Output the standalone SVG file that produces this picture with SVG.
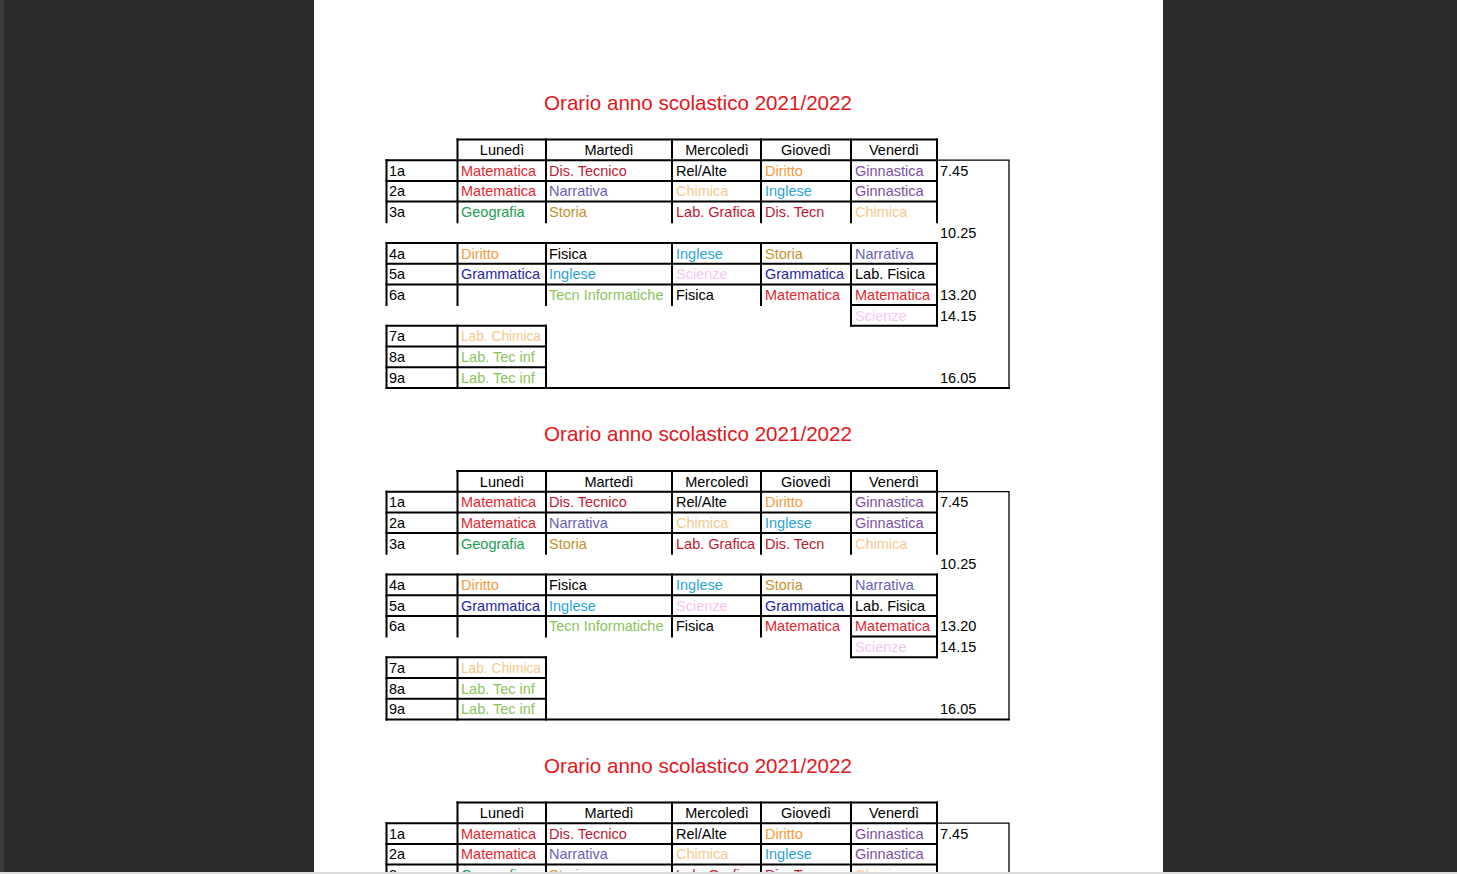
<svg xmlns="http://www.w3.org/2000/svg" width="1457" height="874" viewBox="0 0 1457 874">
<style>
text{font-family:"Liberation Sans",Arial,sans-serif;font-size:14.5px;fill:#000}
.t{font-size:20.6px;fill:#e3151b;text-anchor:middle}
.h{text-anchor:middle}
.ln{stroke:#000;stroke-width:2;fill:none;stroke-linecap:square}
.fr{stroke:#000;stroke-width:1.3;fill:none}
.red{fill:#e3262e}.dred{fill:#c01830}.nar{fill:#6a5fb8}.gin{fill:#7c4fa3}
.chi{fill:#f5c98e}.geo{fill:#1e9e50}.sto{fill:#c3922e}.dir{fill:#f39a3c}
.ing{fill:#2aa5d6}.gra{fill:#2626a0}.sci{fill:#f3c6f0}.tec{fill:#8cc45c}
</style>
<rect x="0" y="0" width="1457" height="874" fill="#2b2b2b"/>
<rect x="0" y="0" width="4" height="874" fill="#3c3c3c"/>
<rect x="314" y="0" width="849" height="874" fill="#ffffff"/>

<g id="table1">
<text class="t" x="698" y="109.5">Orario anno scolastico 2021/2022</text>
<g id="grid1">
<path class="ln" d="M457.5,139.5H937M386.5,160.2H937M386.5,180.9H937M386.5,201.6H937M386.5,243H937M386.5,263.7H937M386.5,284.4H937M851,305.1H937M386.5,325.8H546M851,325.8H937M386.5,346.5H546M386.5,367.2H546M386.5,387.9H1009"/>
<path class="ln" d="M386.5,160.2V222.3M386.5,243V305.1M386.5,325.8V387.9M457.5,139.5V222.3M457.5,243V305.1M457.5,325.8V387.9M546,139.5V222.3M546,243V305.1M546,325.8V387.9M672,139.5V222.3M672,243V305.1M761,139.5V222.3M761,243V305.1M851,139.5V222.3M851,243V325.8M937,139.5V222.3M937,243V325.8"/>
<path class="fr" d="M937,160.2H1009V387.9"/>
</g>
<text class="h" x="502" y="155">Lunedì</text><text class="h" x="609" y="155">Martedì</text><text class="h" x="717" y="155">Mercoledì</text><text class="h" x="806" y="155">Giovedì</text><text class="h" x="894" y="155">Venerdì</text>
<text x="389" y="175.7">1a</text><text class="red" x="461" y="175.7">Matematica</text><text class="dred" x="549" y="175.7">Dis. Tecnico</text><text x="676" y="175.7">Rel/Alte</text><text class="dir" x="765" y="175.7">Diritto</text><text class="gin" x="855" y="175.7">Ginnastica</text><text x="940" y="175.7">7.45</text>
<text x="389" y="196.4">2a</text><text class="red" x="461" y="196.4">Matematica</text><text class="nar" x="549" y="196.4">Narrativa</text><text class="chi" x="676" y="196.4">Chimica</text><text class="ing" x="765" y="196.4">Inglese</text><text class="gin" x="855" y="196.4">Ginnastica</text>
<text x="389" y="217.1">3a</text><text class="geo" x="461" y="217.1">Geografia</text><text class="sto" x="549" y="217.1">Storia</text><text class="dred" x="676" y="217.1">Lab. Grafica</text><text class="dred" x="765" y="217.1">Dis. Tecn</text><text class="chi" x="855" y="217.1">Chimica</text>
<text x="940" y="237.8">10.25</text>
<text x="389" y="258.5">4a</text><text class="dir" x="461" y="258.5">Diritto</text><text x="549" y="258.5">Fisica</text><text class="ing" x="676" y="258.5">Inglese</text><text class="sto" x="765" y="258.5">Storia</text><text class="nar" x="855" y="258.5">Narrativa</text>
<text x="389" y="279.2">5a</text><text class="gra" x="461" y="279.2">Grammatica</text><text class="ing" x="549" y="279.2">Inglese</text><text class="sci" x="676" y="279.2">Scienze</text><text class="gra" x="765" y="279.2">Grammatica</text><text x="855" y="279.2">Lab. Fisica</text>
<text x="389" y="299.9">6a</text><text class="tec" x="549" y="299.9">Tecn Informatiche</text><text x="676" y="299.9">Fisica</text><text class="red" x="765" y="299.9">Matematica</text><text class="red" x="855" y="299.9">Matematica</text><text x="940" y="299.9">13.20</text>
<text class="sci" x="855" y="320.6">Scienze</text><text x="940" y="320.6">14.15</text>
<text x="389" y="341.3">7a</text><text class="chi" x="461" y="341.3" textLength="80" lengthAdjust="spacingAndGlyphs">Lab. Chimica</text>
<text x="389" y="362">8a</text><text class="tec" x="461" y="362">Lab. Tec inf</text>
<text x="389" y="382.7">9a</text><text class="tec" x="461" y="382.7">Lab. Tec inf</text><text x="940" y="382.7">16.05</text>
</g>

<g id="table2" transform="translate(0,331.5)">
<text class="t" x="698" y="109.5">Orario anno scolastico 2021/2022</text>
<g id="grid2">
<path class="ln" d="M457.5,139.5H937M386.5,160.2H937M386.5,180.9H937M386.5,201.6H937M386.5,243H937M386.5,263.7H937M386.5,284.4H937M851,305.1H937M386.5,325.8H546M851,325.8H937M386.5,346.5H546M386.5,367.2H546M386.5,387.9H1009"/>
<path class="ln" d="M386.5,160.2V222.3M386.5,243V305.1M386.5,325.8V387.9M457.5,139.5V222.3M457.5,243V305.1M457.5,325.8V387.9M546,139.5V222.3M546,243V305.1M546,325.8V387.9M672,139.5V222.3M672,243V305.1M761,139.5V222.3M761,243V305.1M851,139.5V222.3M851,243V325.8M937,139.5V222.3M937,243V325.8"/>
<path class="fr" d="M937,160.2H1009V387.9"/>
</g>
<text class="h" x="502" y="155">Lunedì</text><text class="h" x="609" y="155">Martedì</text><text class="h" x="717" y="155">Mercoledì</text><text class="h" x="806" y="155">Giovedì</text><text class="h" x="894" y="155">Venerdì</text>
<text x="389" y="175.7">1a</text><text class="red" x="461" y="175.7">Matematica</text><text class="dred" x="549" y="175.7">Dis. Tecnico</text><text x="676" y="175.7">Rel/Alte</text><text class="dir" x="765" y="175.7">Diritto</text><text class="gin" x="855" y="175.7">Ginnastica</text><text x="940" y="175.7">7.45</text>
<text x="389" y="196.4">2a</text><text class="red" x="461" y="196.4">Matematica</text><text class="nar" x="549" y="196.4">Narrativa</text><text class="chi" x="676" y="196.4">Chimica</text><text class="ing" x="765" y="196.4">Inglese</text><text class="gin" x="855" y="196.4">Ginnastica</text>
<text x="389" y="217.1">3a</text><text class="geo" x="461" y="217.1">Geografia</text><text class="sto" x="549" y="217.1">Storia</text><text class="dred" x="676" y="217.1">Lab. Grafica</text><text class="dred" x="765" y="217.1">Dis. Tecn</text><text class="chi" x="855" y="217.1">Chimica</text>
<text x="940" y="237.8">10.25</text>
<text x="389" y="258.5">4a</text><text class="dir" x="461" y="258.5">Diritto</text><text x="549" y="258.5">Fisica</text><text class="ing" x="676" y="258.5">Inglese</text><text class="sto" x="765" y="258.5">Storia</text><text class="nar" x="855" y="258.5">Narrativa</text>
<text x="389" y="279.2">5a</text><text class="gra" x="461" y="279.2">Grammatica</text><text class="ing" x="549" y="279.2">Inglese</text><text class="sci" x="676" y="279.2">Scienze</text><text class="gra" x="765" y="279.2">Grammatica</text><text x="855" y="279.2">Lab. Fisica</text>
<text x="389" y="299.9">6a</text><text class="tec" x="549" y="299.9">Tecn Informatiche</text><text x="676" y="299.9">Fisica</text><text class="red" x="765" y="299.9">Matematica</text><text class="red" x="855" y="299.9">Matematica</text><text x="940" y="299.9">13.20</text>
<text class="sci" x="855" y="320.6">Scienze</text><text x="940" y="320.6">14.15</text>
<text x="389" y="341.3">7a</text><text class="chi" x="461" y="341.3" textLength="80" lengthAdjust="spacingAndGlyphs">Lab. Chimica</text>
<text x="389" y="362">8a</text><text class="tec" x="461" y="362">Lab. Tec inf</text>
<text x="389" y="382.7">9a</text><text class="tec" x="461" y="382.7">Lab. Tec inf</text><text x="940" y="382.7">16.05</text>
</g>

<g id="table3" transform="translate(0,663)">
<text class="t" x="698" y="109.5">Orario anno scolastico 2021/2022</text>
<g id="grid3">
<path class="ln" d="M457.5,139.5H937M386.5,160.2H937M386.5,180.9H937M386.5,201.6H937"/>
<path class="ln" d="M386.5,160.2V222.3M457.5,139.5V222.3M546,139.5V222.3M672,139.5V222.3M761,139.5V222.3M851,139.5V222.3M937,139.5V222.3"/>
<path class="fr" d="M937,160.2H1009V222.3"/>
</g>
<text class="h" x="502" y="155">Lunedì</text><text class="h" x="609" y="155">Martedì</text><text class="h" x="717" y="155">Mercoledì</text><text class="h" x="806" y="155">Giovedì</text><text class="h" x="894" y="155">Venerdì</text>
<text x="389" y="175.7">1a</text><text class="red" x="461" y="175.7">Matematica</text><text class="dred" x="549" y="175.7">Dis. Tecnico</text><text x="676" y="175.7">Rel/Alte</text><text class="dir" x="765" y="175.7">Diritto</text><text class="gin" x="855" y="175.7">Ginnastica</text><text x="940" y="175.7">7.45</text>
<text x="389" y="196.4">2a</text><text class="red" x="461" y="196.4">Matematica</text><text class="nar" x="549" y="196.4">Narrativa</text><text class="chi" x="676" y="196.4">Chimica</text><text class="ing" x="765" y="196.4">Inglese</text><text class="gin" x="855" y="196.4">Ginnastica</text>
<text x="389" y="217.1">3a</text><text class="geo" x="461" y="217.1">Geografia</text><text class="sto" x="549" y="217.1">Storia</text><text class="dred" x="676" y="217.1">Lab. Grafica</text><text class="dred" x="765" y="217.1">Dis. Tecn</text><text class="chi" x="855" y="217.1">Chimica</text>
</g>
<rect x="0" y="872" width="1457" height="2" fill="#dcdcdc"/>
</svg>
